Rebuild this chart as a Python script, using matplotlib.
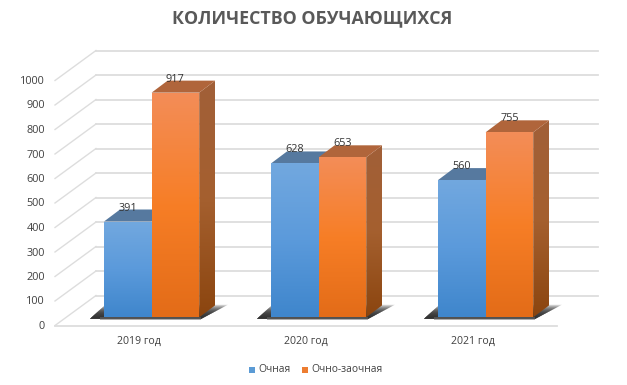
import numpy as np
import matplotlib
matplotlib.use('Agg')
import matplotlib.pyplot as plt
from matplotlib.colors import LinearSegmentedColormap
from matplotlib.patches import Polygon, Rectangle

plt.rcParams['font.family'] = ['Open Sans', 'DejaVu Sans']

title = 'КОЛИЧЕСТВО ОБУЧАЮЩИХСЯ'
years = ['2019 год', '2020 год', '2021 год']
series_names = ['Очная', 'Очно-заочная']
full_time = [391, 628, 560]
part_time = [917, 653, 755]
ticks = [0, 100, 200, 300, 400, 500, 600, 700, 800, 900, 1000]

# picture geometry, in pixels
W, H = 627, 385
PX = 0.245           # pixels per unit of value
BASE = 317.3         # pixel row of value 0 on the bar fronts
FLOOR = 8.2          # floor front edge lies this far below the bar base
WALL_DX, WALL_DY = 41, 30
DEPTH_DX, DEPTH_DY = 16, 12
BAR_W = 47.6
FIRST_BAR, GROUP_STEP = 104, 167
FLOOR_X0, FLOOR_X1 = 55, 557

def u(px):
  return px / PX

blue_front = LinearSegmentedColormap.from_list('bf', ['#3F86CC', '#5B9ADB', '#72A8DF'])
orange_front = LinearSegmentedColormap.from_list('of', ['#E36C18', '#F77E26', '#F38D58'])
blue_side = LinearSegmentedColormap.from_list('bs', ['#2F6296', '#4F7BAA'])
orange_side = LinearSegmentedColormap.from_list('os', ['#8B450F', '#A5602F', '#A15F38'])

def gradient_poly(ax, pts, cmap):
  xs = [p[0] for p in pts]
  ys = [p[1] for p in pts]
  g = np.linspace(1, 0, 128).reshape(-1, 1)
  im = ax.imshow(g, cmap=cmap, extent=(min(xs), max(xs), min(ys), max(ys)),
                 aspect='auto', vmin=0, vmax=1, zorder=ax.zcount, origin='upper')
  im.set_clip_path(Polygon(pts, closed=True, transform=ax.transData))
  ax.zcount += 0.01

def bar3d(ax, x, v, cmap, top_color, side_cmap):
  dy = u(DEPTH_DY)
  x1 = x + BAR_W
  gradient_poly(ax, [(x1, 0), (x1 + DEPTH_DX, dy), (x1 + DEPTH_DX, v + dy), (x1, v)], side_cmap)
  ax.add_patch(Polygon([(x, v), (x1, v), (x1 + DEPTH_DX, v + dy), (x + DEPTH_DX, v + dy)],
                       closed=True, fc=top_color, ec='none', zorder=ax.zcount))
  ax.zcount += 0.01
  gradient_poly(ax, [(x, 0), (x1, 0), (x1, v), (x, v)], cmap)

def shadow(ax, x):
  # soft shadow under a group: stacked layers so it is dark low down and fades upward
  x1 = x + 2 * BAR_W
  for h in np.linspace(1, 14, 14):
    pts = [(x - 14, u(-1.5)), (x1 + 2, u(-1.5)),
           (x1 + 2 + h * 1.9, u(h - 1.5)), (x - 14 + h * 1.1, u(h - 1.5))]
    ax.add_patch(Polygon(pts, closed=True, fc='#2a2a2a', ec='none', alpha=0.2, zorder=2))
  ax.add_patch(Rectangle((x - 4, u(-2.5)), 2 * BAR_W + 6, u(2.5), fc='#6a6a6a', ec='none', alpha=0.55, zorder=2))

fig = plt.figure(figsize=(W / 100, H / 100), dpi=100)
ax = fig.add_axes([0, 0, 1, 1])
ax.zcount = 3
ax.axis('off')

grid = '#DDDDDD'
floor = -u(FLOOR)
wall = u(WALL_DY)
for t in ticks:
  ax.plot([FLOOR_X0, FLOOR_X0 + WALL_DX], [floor + t, floor + t + wall], color=grid, lw=1.0, zorder=1)
  ax.plot([FLOOR_X0 + WALL_DX, FLOOR_X1 + WALL_DX], [floor + t + wall] * 2, color=grid, lw=1.3, zorder=1)
  ax.text(45, floor + t - u(1), str(t), ha='right', va='center', fontsize=7.8, color='#404040')
ax.plot([FLOOR_X0, FLOOR_X1], [floor, floor], color=grid, lw=1.3, zorder=1)

label_step = (FLOOR_X1 - FLOOR_X0) / len(years)
for i, name in enumerate(years):
  x = FIRST_BAR + i * GROUP_STEP
  shadow(ax, x)
  bar3d(ax, x, full_time[i], blue_front, '#56799F', blue_side)
  bar3d(ax, x + BAR_W, part_time[i], orange_front, '#B0653B', orange_side)
  ax.text(FLOOR_X0 + label_step * (i + 0.5), u(BASE - 341), name, ha='center', va='center',
          fontsize=7.6, color='#404040')
  ax.text(x + BAR_W / 2, full_time[i] + u(13.5), str(full_time[i]), ha='center', va='center',
          fontsize=7.8, color='#333333', zorder=20)
  ax.text(x + 1.5 * BAR_W, part_time[i] + u(13.5), str(part_time[i]), ha='center', va='center',
          fontsize=7.8, color='#333333', zorder=20)

ax.text(312.5, u(BASE - 18), title, ha='center', va='center', fontsize=12.75,
        fontweight='bold', color='#595959')

# legend
legend_y = u(BASE - 370)
ax.add_patch(Rectangle((249, legend_y - u(3)), 6, u(6), fc='#5B9BD5', ec='none'))
ax.text(258, legend_y, series_names[0], ha='left', va='center', fontsize=7.4, color='#404040')
ax.add_patch(Rectangle((302, legend_y - u(3)), 6, u(6), fc='#ED7D31', ec='none'))
ax.text(311.5, legend_y, series_names[1], ha='left', va='center', fontsize=7.4, color='#404040')

ax.set_xlim(0, W)
ax.set_ylim(u(BASE - H), u(BASE))
fig.savefig('out.png', dpi=100, facecolor='white')
